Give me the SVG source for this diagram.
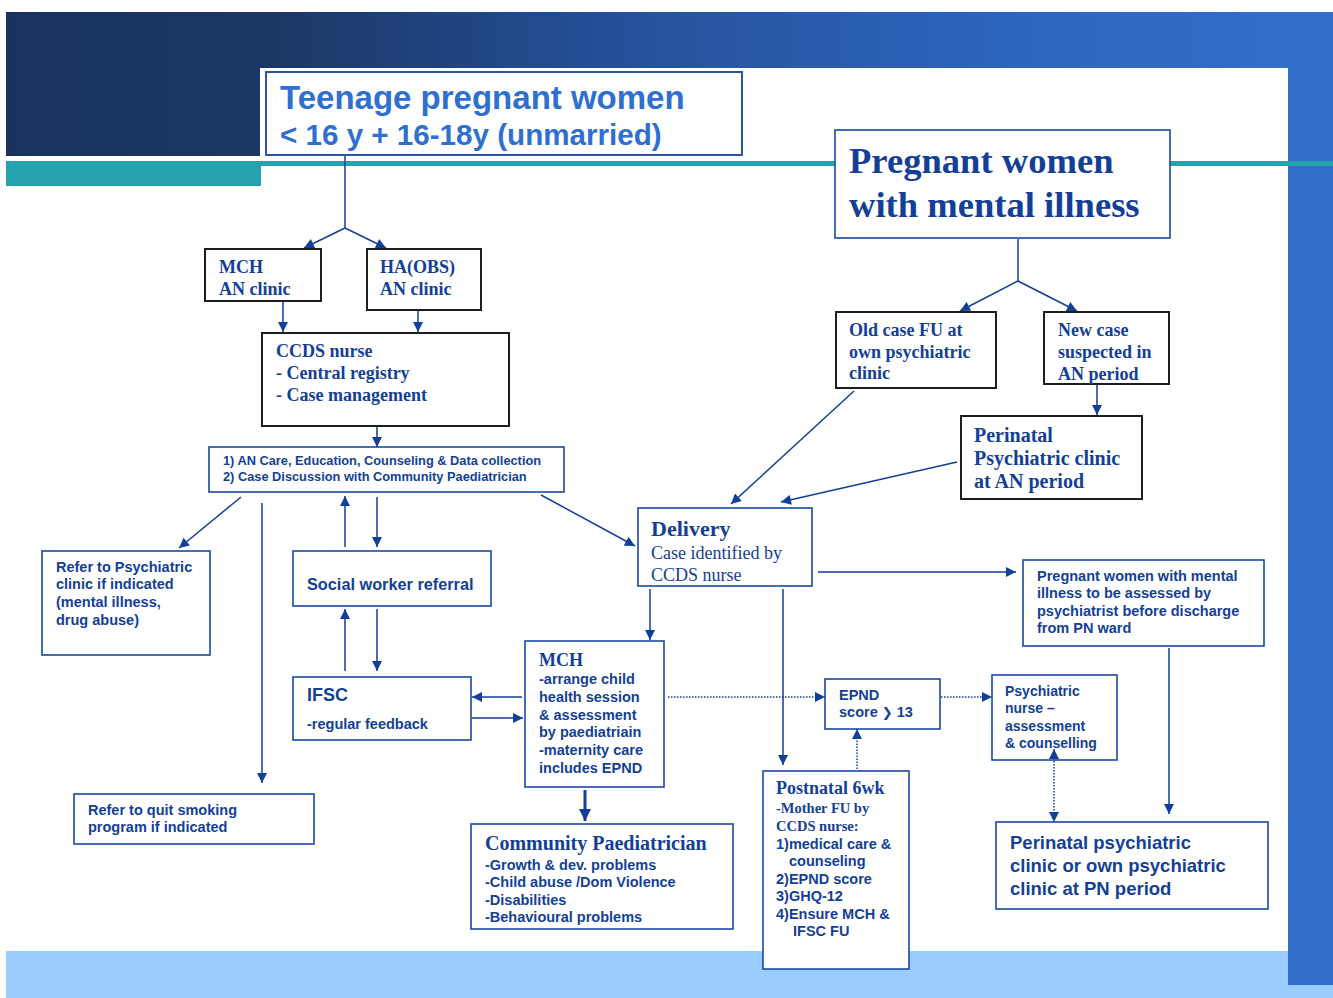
<svg xmlns="http://www.w3.org/2000/svg" width="1333" height="998" viewBox="0 0 1333 998">
  <defs>
    <linearGradient id="bannerGrad" x1="6" y1="0" x2="1333" y2="0" gradientUnits="userSpaceOnUse">
      <stop offset="0" stop-color="#1a335e"/>
      <stop offset="0.2" stop-color="#1b3765"/>
      <stop offset="0.5" stop-color="#2654a0"/>
      <stop offset="0.75" stop-color="#2d65bc"/>
      <stop offset="1" stop-color="#3170cc"/>
    </linearGradient>
    <marker id="ah" viewBox="0 0 10 10" refX="10" refY="5" markerWidth="11" markerHeight="10" orient="auto-start-reverse" markerUnits="userSpaceOnUse">
      <path d="M0,0 L10,5 L0,10 z" fill="#123f98"/>
    </marker>
    <marker id="ahBig" viewBox="0 0 10 10" refX="10" refY="5" markerWidth="12" markerHeight="12" orient="auto" markerUnits="userSpaceOnUse">
      <path d="M0,0 L10,5 L0,10 z" fill="#123f98"/>
    </marker>
    <style>
      .box { fill: #ffffff; stroke: #1a4aa0; stroke-width: 1.6; }
      .boxk { fill: #ffffff; stroke: #1e1e1e; stroke-width: 2; }
      .sans { font-family: "Liberation Sans", Arial, sans-serif; font-weight: bold; fill: #133f96; }
      .serif { font-family: "Liberation Serif", "Times New Roman", serif; font-weight: bold; fill: #133f96; }
      .serifr { font-family: "Liberation Serif", "Times New Roman", serif; font-weight: normal; fill: #133f96; }
      .s14 { font-size: 14.5px; }
      .s18 { font-size: 18px; }
      .conn line, .conn path { stroke: #123f98; stroke-width: 1.5; fill: none; }
      .conn .dot { stroke-dasharray: 1.5 1.5; stroke-width: 1.5; }
    </style>
  </defs>

  <!-- page background -->
  <rect x="0" y="0" width="1333" height="998" fill="#ffffff"/>
  <g id="background">
    <rect x="6" y="12" width="1327" height="56" fill="url(#bannerGrad)"/>
    <rect x="6" y="12" width="254" height="144" fill="url(#bannerGrad)"/>
    <rect x="6" y="951" width="1327" height="47" fill="#99ccff"/>
    <rect x="1288" y="12" width="45" height="973" fill="#316fcb"/>
    <rect x="6" y="161" width="255" height="25" fill="#25a2ae"/>
    <rect x="261" y="161" width="1072" height="5" fill="#25a2ae"/>
    <rect x="260" y="68" width="1028" height="93" fill="#ffffff"/>
  </g>

  <!-- teenage pregnant women -->
  <g id="node-teenage">
    <rect x="266" y="72" width="476" height="83" fill="#ffffff" stroke="#2b54a5" stroke-width="2"/>
    <text x="280" y="109" font-family="Liberation Sans, Arial, sans-serif" font-weight="bold" font-size="33" fill="#2f6fd0">Teenage pregnant women</text>
    <text x="280" y="145" font-family="Liberation Sans, Arial, sans-serif" font-weight="bold" font-size="29.6" fill="#2f6fd0">&lt; 16 y + 16-18y (unmarried)</text>
  </g>

  <!-- pregnant women with mental illness -->
  <g id="node-mental">
    <rect x="835" y="130" width="335" height="108" class="box"/>
    <text x="849" y="173" class="serif" font-size="36.6">Pregnant women</text>
    <text x="849" y="217" class="serif" font-size="36.6">with mental illness</text>
  </g>

  <g id="node-mch-an">
    <rect x="205" y="249" width="116" height="52" class="boxk"/>
    <text class="serif s18" x="219" y="273">MCH</text>
    <text class="serif s18" x="219" y="295">AN clinic</text>
  </g>

  <g id="node-ha-obs">
    <rect x="367" y="249" width="114" height="61" class="boxk"/>
    <text class="serif s18" x="380" y="273">HA(OBS)</text>
    <text class="serif s18" x="380" y="295">AN clinic</text>
  </g>

  <g id="node-ccds">
    <rect x="262" y="333" width="247" height="93" class="boxk"/>
    <text class="serif s18" x="276" y="357">CCDS nurse</text>
    <text class="serif s18" x="276" y="379">- Central registry</text>
    <text class="serif s18" x="276" y="401">- Case management</text>
  </g>

  <g id="node-an-care">
    <rect x="209" y="447" width="355" height="45" class="box"/>
    <text class="sans" font-size="12.8" x="223" y="465">1) AN Care, Education, Counseling &amp; Data collection</text>
    <text class="sans" font-size="12.8" x="223" y="481">2) Case Discussion with Community Paediatrician</text>
  </g>

  <g id="node-refer-psych">
    <rect x="42" y="551" width="168" height="104" class="box"/>
    <text class="sans s14" x="56" y="572">Refer to Psychiatric</text>
    <text class="sans s14" x="56" y="589">clinic if indicated</text>
    <text class="sans s14" x="56" y="607">(mental illness,</text>
    <text class="sans s14" x="56" y="625">drug abuse)</text>
  </g>

  <g id="node-social">
    <rect x="293" y="551" width="198" height="55" class="box"/>
    <text class="sans" font-size="16.3" x="307" y="590">Social worker referral</text>
  </g>

  <g id="node-ifsc">
    <rect x="293" y="677" width="178" height="63" class="box"/>
    <text class="sans" font-size="18" x="307" y="701">IFSC</text>
    <text class="sans s14" x="307" y="729">-regular feedback</text>
  </g>

  <g id="node-quit-smoking">
    <rect x="74" y="794" width="240" height="50" class="box"/>
    <text class="sans s14" x="88" y="815">Refer to quit smoking</text>
    <text class="sans s14" x="88" y="832">program if indicated</text>
  </g>

  <g id="node-old-case">
    <rect x="836" y="312" width="160" height="76" class="boxk"/>
    <text class="serif s18" x="849" y="336">Old case FU at</text>
    <text class="serif s18" x="849" y="358">own psychiatric</text>
    <text class="serif s18" x="849" y="379">clinic</text>
  </g>

  <g id="node-new-case">
    <rect x="1044" y="312" width="125" height="72" class="boxk"/>
    <text class="serif s18" x="1058" y="336">New case</text>
    <text class="serif s18" x="1058" y="358">suspected in</text>
    <text class="serif s18" x="1058" y="380">AN period</text>
  </g>

  <g id="node-perinatal-an">
    <rect x="961" y="416" width="181" height="83" class="boxk"/>
    <text class="serif" font-size="20" x="974" y="442">Perinatal</text>
    <text class="serif" font-size="20" x="974" y="465">Psychiatric clinic</text>
    <text class="serif" font-size="20" x="974" y="488">at AN period</text>
  </g>

  <g id="node-delivery">
    <rect x="638" y="508" width="174" height="78" class="box"/>
    <text class="serif" font-size="22" x="651" y="536">Delivery</text>
    <text class="serifr s18" x="651" y="559">Case identified by</text>
    <text class="serifr s18" x="651" y="581">CCDS nurse</text>
  </g>

  <g id="node-mch-pn">
    <rect x="525" y="641" width="139" height="146" class="box"/>
    <text class="serif s18" x="539" y="666">MCH</text>
    <text class="sans s14" x="539" y="684">-arrange child</text>
    <text class="sans s14" x="539" y="702">health session</text>
    <text class="sans s14" x="539" y="720">&amp; assessment</text>
    <text class="sans s14" x="539" y="737">by paediatriain</text>
    <text class="sans s14" x="539" y="755">-maternity care</text>
    <text class="sans s14" x="539" y="773">includes EPND</text>
  </g>

  <g id="node-community-paed">
    <rect x="471" y="824" width="262" height="105" class="box"/>
    <text class="serif" font-size="20" x="485" y="850">Community Paediatrician</text>
    <text class="sans s14" x="485" y="870">-Growth &amp; dev. problems</text>
    <text class="sans s14" x="485" y="887">-Child abuse /Dom Violence</text>
    <text class="sans s14" x="485" y="905">-Disabilities</text>
    <text class="sans s14" x="485" y="922">-Behavioural problems</text>
  </g>

  <g id="node-postnatal">
    <rect x="763" y="771" width="146" height="198" class="box"/>
    <text class="serif s18" x="776" y="794">Postnatal 6wk</text>
    <text class="serif" font-size="14.5" x="776" y="813">-Mother FU by</text>
    <text class="serif" font-size="14.5" x="776" y="831">CCDS nurse:</text>
    <text class="sans s14" x="776" y="849">1)medical care &amp;</text>
    <text class="sans s14" x="789" y="866">counseling</text>
    <text class="sans s14" x="776" y="884">2)EPND score</text>
    <text class="sans s14" x="776" y="901">3)GHQ-12</text>
    <text class="sans s14" x="776" y="919">4)Ensure MCH &amp;</text>
    <text class="sans s14" x="793" y="936">IFSC FU</text>
  </g>

  <g id="node-epnd">
    <rect x="825" y="679" width="115" height="50" class="box"/>
    <text class="sans s14" x="839" y="700">EPND</text>
    <text class="sans s14" x="839" y="717">score <tspan font-family="DejaVu Sans, sans-serif" font-size="13">❯</tspan> 13</text>
  </g>

  <g id="node-assess-discharge">
    <rect x="1023" y="560" width="241" height="86" class="box"/>
    <text class="sans s14" x="1037" y="581">Pregnant women with mental</text>
    <text class="sans s14" x="1037" y="598">illness to be assessed by</text>
    <text class="sans s14" x="1037" y="616">psychiatrist before discharge</text>
    <text class="sans s14" x="1037" y="633">from PN ward</text>
  </g>

  <g id="node-psych-nurse">
    <rect x="992" y="675" width="125" height="85" class="box"/>
    <text class="sans" font-size="14" x="1005" y="696">Psychiatric</text>
    <text class="sans" font-size="14" x="1005" y="713">nurse –</text>
    <text class="sans" font-size="14" x="1005" y="731">assessment</text>
    <text class="sans" font-size="14" x="1005" y="748">&amp; counselling</text>
  </g>

  <g id="node-perinatal-pn">
    <rect x="996" y="822" width="272" height="87" class="box"/>
    <text class="sans" font-size="18.5" x="1010" y="849">Perinatal psychiatric</text>
    <text class="sans" font-size="18.5" x="1010" y="872">clinic or own psychiatric</text>
    <text class="sans" font-size="18.5" x="1010" y="895">clinic at PN period</text>
  </g>

  <!-- connectors, drawn above the boxes so arrowheads stay visible -->
  <g id="connectors" class="conn">
    <!-- teenage branch -->
    <line x1="345" y1="156" x2="345" y2="228"/>
    <line x1="345" y1="228" x2="304" y2="248" marker-end="url(#ah)"/>
    <line x1="345" y1="228" x2="386" y2="248" marker-end="url(#ah)"/>
    <line x1="283" y1="302" x2="283" y2="332" marker-end="url(#ah)"/>
    <line x1="418" y1="311" x2="418" y2="332" marker-end="url(#ah)"/>
    <line x1="377" y1="427" x2="377" y2="447" marker-end="url(#ah)"/>
    <line x1="241" y1="497" x2="179" y2="548" marker-end="url(#ah)"/>
    <line x1="262" y1="503" x2="262" y2="783" marker-end="url(#ah)"/>
    <line x1="345" y1="547" x2="345" y2="496" marker-end="url(#ah)"/>
    <line x1="377" y1="497" x2="377" y2="547" marker-end="url(#ah)"/>
    <line x1="345" y1="671" x2="345" y2="609" marker-end="url(#ah)"/>
    <line x1="377" y1="609" x2="377" y2="671" marker-end="url(#ah)"/>
    <line x1="522" y1="697" x2="472" y2="697" marker-end="url(#ah)"/>
    <line x1="472" y1="718" x2="523" y2="718" marker-end="url(#ah)"/>
    <line x1="541" y1="495" x2="635" y2="546" marker-end="url(#ah)"/>
    <!-- mental illness branch -->
    <line x1="1018" y1="239" x2="1018" y2="281"/>
    <line x1="1018" y1="281" x2="960" y2="311" marker-end="url(#ah)"/>
    <line x1="1018" y1="281" x2="1077" y2="311" marker-end="url(#ah)"/>
    <line x1="1097" y1="385" x2="1097" y2="415" marker-end="url(#ah)"/>
    <line x1="854" y1="391" x2="731" y2="504" marker-end="url(#ah)"/>
    <line x1="957" y1="462" x2="781" y2="502" marker-end="url(#ah)"/>
    <!-- after delivery -->
    <line x1="650" y1="589" x2="650" y2="640" marker-end="url(#ah)"/>
    <line x1="783" y1="589" x2="783" y2="765" marker-end="url(#ah)"/>
    <line x1="818" y1="572" x2="1016" y2="572" marker-end="url(#ah)"/>
    <line x1="1169" y1="648" x2="1169" y2="814" marker-end="url(#ah)"/>
    <line x1="585" y1="790" x2="585" y2="821" style="stroke-width:3" marker-end="url(#ahBig)"/>
    <!-- dotted EPND paths -->
    <line class="dot" x1="668" y1="697" x2="825" y2="697" marker-end="url(#ah)"/>
    <line class="dot" x1="941" y1="697" x2="992" y2="697" marker-end="url(#ah)"/>
    <line class="dot" x1="857" y1="769" x2="857" y2="729" marker-end="url(#ah)"/>
    <line class="dot" x1="1054" y1="749" x2="1054" y2="822" marker-start="url(#ah)" marker-end="url(#ah)"/>
  </g>
</svg>
